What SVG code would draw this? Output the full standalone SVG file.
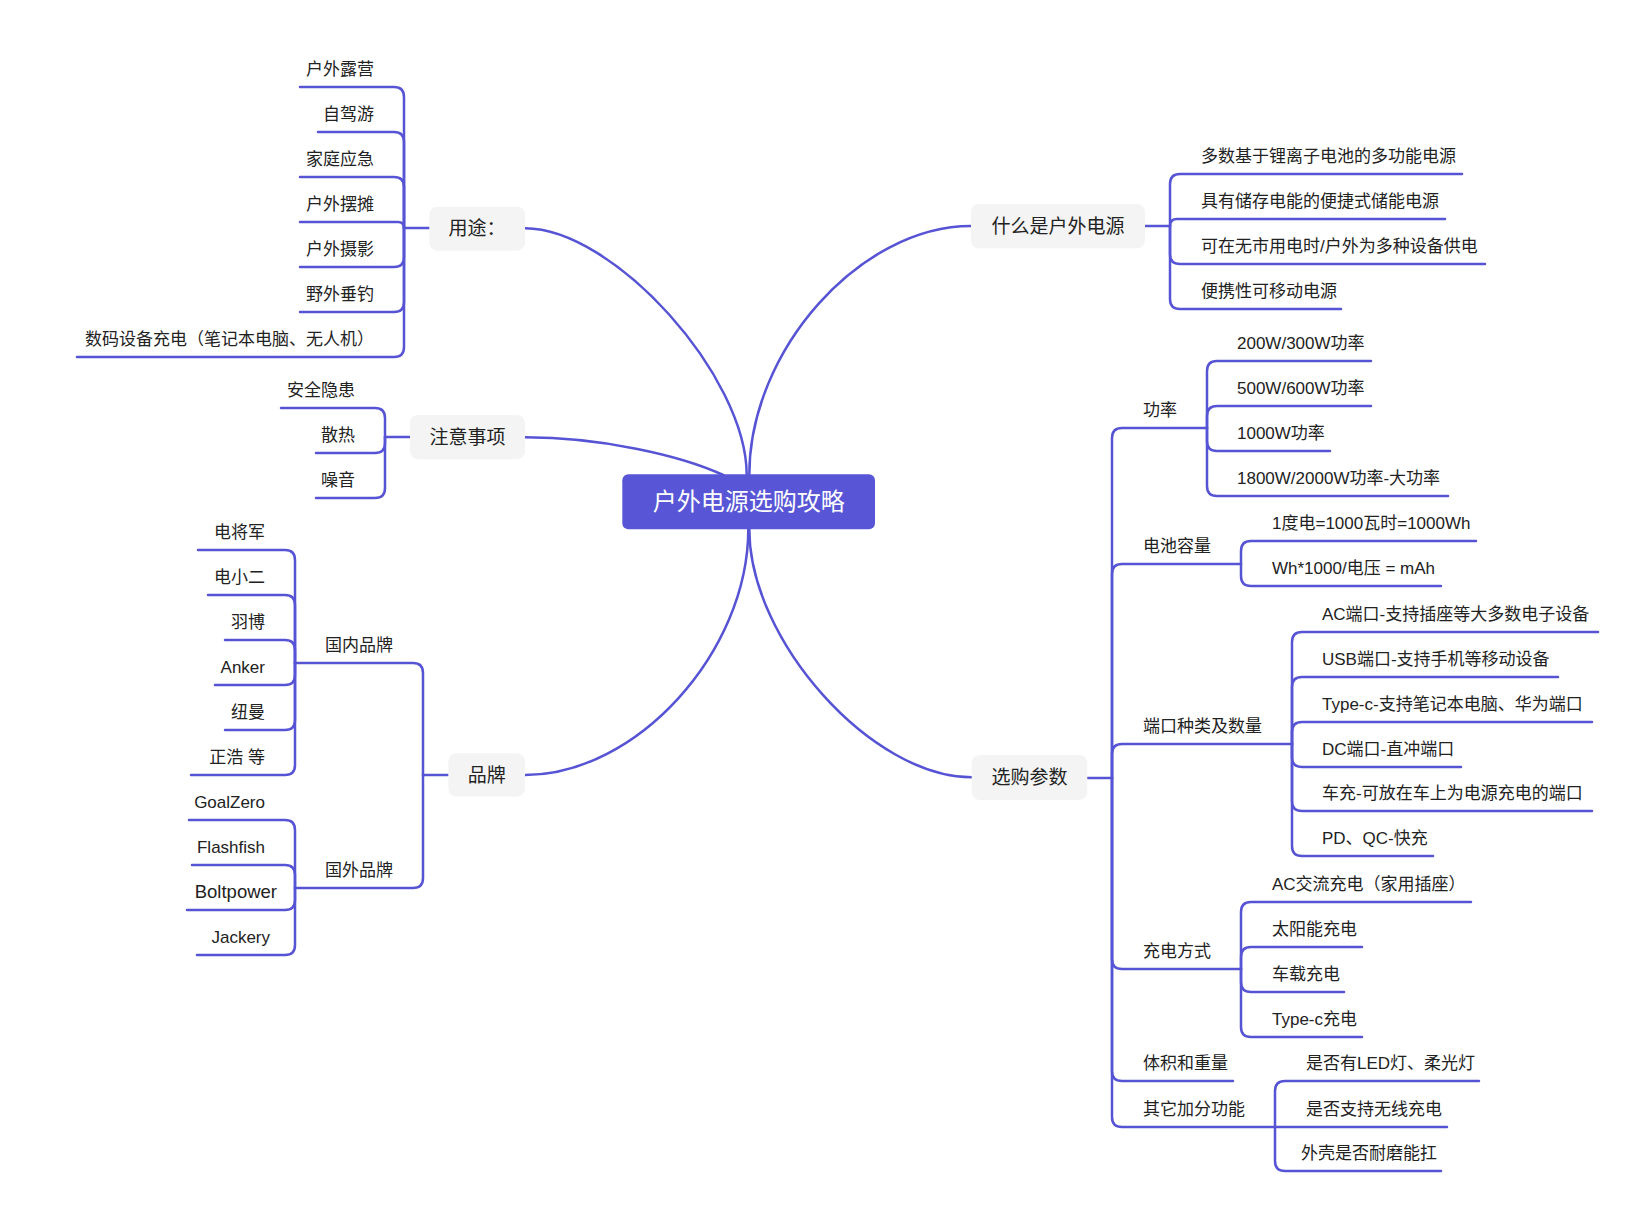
<svg xmlns="http://www.w3.org/2000/svg" width="1651" height="1226" viewBox="0 0 1651 1226">
<style>
.c{fill:none;stroke:#5653d4;stroke-width:2.5;stroke-linecap:round;stroke-linejoin:round}
text{font-family:"Liberation Sans","Noto Sans CJK SC",sans-serif;fill:#222}
.l{font-size:17px}
.r{font-size:17px}
.s{font-size:17px}
.m{font-size:19px}
.e{text-anchor:end}
.mid{text-anchor:middle}
.box{fill:#f4f4f4}
.root{fill:#5856d6}
.rt{font-size:24px;fill:#fff;text-anchor:middle}
</style>
<rect width="1651" height="1226" fill="#fff"/>
<g id="connectors">
<path class="c" d="M746.7 475 C746.7 376 613.7 228.3 525 228.3"/>
<path class="c" d="M723.3 475 C680 455 600 437.3 525 437.3"/>
<path class="c" d="M748.3 529 C748.3 652 636.7 775 525 775"/>
<path class="c" d="M749.3 475 C749.3 350 860.5 226 971 226"/>
<path class="c" d="M749.3 529 C749.3 641 872 777.3 971.7 777.3"/>
<path class="c" d="M429 228 H404"/>
<path class="c" d="M404 228 V97 Q404 87 394 87 H300"/>
<path class="c" d="M404 228 V142 Q404 132 394 132 H318"/>
<path class="c" d="M404 228 V187 Q404 177 394 177 H300"/>
<path class="c" d="M404 228 Q404 222 398 222 H300"/>
<path class="c" d="M404 228 V257 Q404 267 394 267 H300"/>
<path class="c" d="M404 228 V302 Q404 312 394 312 H300"/>
<path class="c" d="M404 228 V347 Q404 357 394 357 H77"/>
<path class="c" d="M410 437 H385"/>
<path class="c" d="M385 437 V418 Q385 408 375 408 H281"/>
<path class="c" d="M385 437 V443 Q385 453 375 453 H316"/>
<path class="c" d="M385 437 V488 Q385 498 375 498 H316"/>
<path class="c" d="M448 775 H423"/>
<path class="c" d="M423 775 V673 Q423 663 413 663 H295"/>
<path class="c" d="M423 775 V878 Q423 888 413 888 H295"/>
<path class="c" d="M295 663 V560 Q295 550 285 550 H198"/>
<path class="c" d="M295 663 V605 Q295 595 285 595 H208"/>
<path class="c" d="M295 663 V650 Q295 640 285 640 H225"/>
<path class="c" d="M295 663 V675 Q295 685 285 685 H215"/>
<path class="c" d="M295 663 V720 Q295 730 285 730 H225"/>
<path class="c" d="M295 663 V765 Q295 775 285 775 H191"/>
<path class="c" d="M295 888 V830 Q295 820 285 820 H189"/>
<path class="c" d="M295 888 V875 Q295 865 285 865 H192"/>
<path class="c" d="M295 888 V900 Q295 910 285 910 H187"/>
<path class="c" d="M295 888 V945 Q295 955 285 955 H197"/>
<path class="c" d="M1145 226 H1170"/>
<path class="c" d="M1170 226 V184 Q1170 174 1180 174 H1462"/>
<path class="c" d="M1170 226 Q1170 219 1177 219 H1445"/>
<path class="c" d="M1170 226 V254 Q1170 264 1180 264 H1485"/>
<path class="c" d="M1170 226 V299 Q1170 309 1180 309 H1341"/>
<path class="c" d="M1087 778 H1112"/>
<path class="c" d="M1112 778 V438 Q1112 428 1122 428 H1207"/>
<path class="c" d="M1112 778 V574 Q1112 564 1122 564 H1241"/>
<path class="c" d="M1112 778 V754 Q1112 744 1122 744 H1292"/>
<path class="c" d="M1112 778 V959 Q1112 969 1122 969 H1241"/>
<path class="c" d="M1112 778 V1071 Q1112 1081 1122 1081 H1233"/>
<path class="c" d="M1112 778 V1117 Q1112 1127 1122 1127 H1275"/>
<path class="c" d="M1207 428 V371 Q1207 361 1217 361 H1371"/>
<path class="c" d="M1207 428 V416 Q1207 406 1217 406 H1371"/>
<path class="c" d="M1207 428 V441 Q1207 451 1217 451 H1330"/>
<path class="c" d="M1207 428 V486 Q1207 496 1217 496 H1448"/>
<path class="c" d="M1241 564 V551 Q1241 541 1251 541 H1476"/>
<path class="c" d="M1241 564 V576 Q1241 586 1251 586 H1441"/>
<path class="c" d="M1292 744 V642 Q1292 632 1302 632 H1598"/>
<path class="c" d="M1292 744 V687 Q1292 677 1302 677 H1558"/>
<path class="c" d="M1292 744 V732 Q1292 722 1302 722 H1592"/>
<path class="c" d="M1292 744 V757 Q1292 767 1302 767 H1461"/>
<path class="c" d="M1292 744 V801 Q1292 811 1302 811 H1592"/>
<path class="c" d="M1292 744 V846 Q1292 856 1302 856 H1433"/>
<path class="c" d="M1241 969 V912 Q1241 902 1251 902 H1471"/>
<path class="c" d="M1241 969 V957 Q1241 947 1251 947 H1362"/>
<path class="c" d="M1241 969 V982 Q1241 992 1251 992 H1344"/>
<path class="c" d="M1241 969 V1027 Q1241 1037 1251 1037 H1362"/>
<path class="c" d="M1275 1127 V1091 Q1275 1081 1285 1081 H1479"/>
<path class="c" d="M1275 1127 H1447"/>
<path class="c" d="M1275 1127 V1161 Q1275 1171 1285 1171 H1441"/>
</g>
<g id="root"><rect class="root" x="622.3" y="474.3" width="252.7" height="55" rx="6"/><text class="rt" x="748.7" y="510">户外电源选购攻略</text></g>
<g id="n-yongtu"><rect class="box" x="429.3" y="206.7" width="95.7" height="44" rx="8"/><text class="m mid" x="477" y="234.8">用途：</text></g>
<g id="n-zhuyi"><rect class="box" x="410" y="415" width="115" height="44.3" rx="8"/><text class="m mid" x="467.5" y="443.8">注意事项</text></g>
<g id="n-pinpai"><rect class="box" x="448.3" y="753.3" width="76.7" height="43.4" rx="8"/><text class="m mid" x="486.7" y="781.5">品牌</text></g>
<g id="n-shenme"><rect class="box" x="971" y="204" width="174" height="44.3" rx="8"/><text class="m mid" x="1058" y="232.8">什么是户外电源</text></g>
<g id="n-xuangou"><rect class="box" x="971.7" y="755" width="115.6" height="45" rx="8"/><text class="m mid" x="1029.5" y="784">选购参数</text></g>
<g id="yongtu-children">
<text class="l e" x="374" y="75">户外露营</text>
<text class="l e" x="374" y="120">自驾游</text>
<text class="l e" x="374" y="165">家庭应急</text>
<text class="l e" x="374" y="210">户外摆摊</text>
<text class="l e" x="374" y="255">户外摄影</text>
<text class="l e" x="374" y="300">野外垂钓</text>
<text class="l e" x="374" y="345">数码设备充电（笔记本电脑、无人机）</text>
</g>
<g id="zhuyi-children">
<text class="l e" x="355" y="396">安全隐患</text>
<text class="l e" x="355" y="441">散热</text>
<text class="l e" x="355" y="486">噪音</text>
</g>
<g id="pinpai-children">
<text class="s mid" x="359" y="651">国内品牌</text>
<text class="s mid" x="359" y="876">国外品牌</text>
</g>
<g id="guonei-children">
<text class="l e" x="265" y="538">电将军</text>
<text class="l e" x="265" y="583">电小二</text>
<text class="l e" x="265" y="628">羽博</text>
<text class="l e" x="265" y="673">Anker</text>
<text class="l e" x="265" y="718">纽曼</text>
<text class="l e" x="265" y="763">正浩 等</text>
</g>
<g id="guowai-children">
<text class="l e" x="265" y="808">GoalZero</text>
<text class="l e" x="265" y="853">Flashfish</text>
<text class="e" x="277" y="898" style="font-size:18.5px">Boltpower</text>
<text class="l e" x="270" y="943">Jackery</text>
</g>
<g id="shenme-children">
<text class="r" x="1201" y="162">多数基于锂离子电池的多功能电源</text>
<text class="r" x="1201" y="207">具有储存电能的便捷式储能电源</text>
<text class="r" x="1201" y="252">可在无市用电时/户外为多种设备供电</text>
<text class="r" x="1201" y="297">便携性可移动电源</text>
</g>
<g id="xuangou-children">
<text class="s" x="1143" y="415.5">功率</text>
<text class="s" x="1143" y="551.5">电池容量</text>
<text class="s" x="1143" y="731.5">端口种类及数量</text>
<text class="s" x="1143" y="956.5">充电方式</text>
<text class="s" x="1143" y="1068.5">体积和重量</text>
<text class="s" x="1143" y="1114.5">其它加分功能</text>
</g>
<g id="gonglv-children">
<text class="r" x="1237" y="349">200W/300W功率</text>
<text class="r" x="1237" y="394">500W/600W功率</text>
<text class="r" x="1237" y="439">1000W功率</text>
<text class="r" x="1237" y="484">1800W/2000W功率-大功率</text>
</g>
<g id="dianchi-children">
<text class="r" x="1272" y="529">1度电=1000瓦时=1000Wh</text>
<text class="r" x="1272" y="574">Wh*1000/电压 = mAh</text>
</g>
<g id="duankou-children">
<text class="r" x="1322" y="620">AC端口-支持插座等大多数电子设备</text>
<text class="r" x="1322" y="665">USB端口-支持手机等移动设备</text>
<text class="r" x="1322" y="710">Type-c-支持笔记本电脑、华为端口</text>
<text class="r" x="1322" y="755">DC端口-直冲端口</text>
<text class="r" x="1322" y="799">车充-可放在车上为电源充电的端口</text>
<text class="r" x="1322" y="844">PD、QC-快充</text>
</g>
<g id="chongdian-children">
<text class="r" x="1272" y="890">AC交流充电（家用插座）</text>
<text class="r" x="1272" y="935">太阳能充电</text>
<text class="r" x="1272" y="980">车载充电</text>
<text class="r" x="1272" y="1025">Type-c充电</text>
</g>
<g id="qita-children">
<text class="r" x="1306" y="1069">是否有LED灯、柔光灯</text>
<text class="r" x="1306" y="1115">是否支持无线充电</text>
<text class="r" x="1301" y="1159">外壳是否耐磨能扛</text>
</g>
</svg>
